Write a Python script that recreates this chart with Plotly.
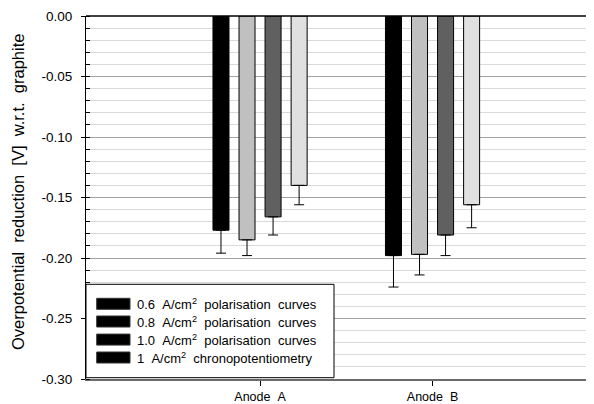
import plotly.graph_objects as go

NB = "\u00a0"
categories = ["Anode" + NB + NB + "A", "Anode" + NB + NB + "B"]
series_names = [
    "0.6 A/cm<sup>2</sup> polarisation curves",
    "0.8 A/cm<sup>2</sup> polarisation curves",
    "1.0 A/cm<sup>2</sup> polarisation curves",
    "1 A/cm<sup>2</sup> chronopotentiometry",
]
s1_values = [-0.177, -0.198]
s2_values = [-0.185, -0.197]
s3_values = [-0.166, -0.181]
s4_values = [-0.140, -0.156]
s1_err = [0.019, 0.026]
s2_err = [0.013, 0.017]
s3_err = [0.015, 0.017]
s4_err = [0.016, 0.019]
y_tick_vals = [0.0, -0.05, -0.10, -0.15, -0.20, -0.25, -0.30]
y_tick_text = ["0.00", "-0.05", "-0.10", "-0.15", "-0.20", "-0.25", "-0.30"]
y_title = "Overpotential reduction [V] w.r.t. graphite"

colors = ["#000000", "#c0c0c0", "#606060", "#e0e0e0"]
values = [s1_values, s2_values, s3_values, s4_values]
errs = [s1_err, s2_err, s3_err, s4_err]

def widen(s):
    return s.replace(" ", NB + NB)

OFF = 8  # page body margin
W, H = 594 - OFF, 404 - OFF
PL, PT, PR, PB = 86, 16, 594, 379  # plot area in page pixels
ml, mt = PL - OFF, PT - OFF
mr = (OFF + W) - PR
mb = (OFF + H) - PB
pw, ph = PR - PL, PB - PT

fig = go.Figure()
for name, vals, err, col in zip(series_names, values, errs, colors):
    fig.add_trace(go.Bar(
        x=categories, y=vals, name=name, showlegend=False,
        marker=dict(color=col, line=dict(color="black", width=1)),
        error_y=dict(type="data", symmetric=False, array=[0] * len(vals),
                     arrayminus=err, color="black", thickness=1, width=5),
    ))

def px_x(p):
    return (p - PL) / pw

def px_y(p):
    return (PB - p) / ph

shapes = []
shapes.append(dict(type="line", xref="paper", yref="paper", x0=0, x1=1, y0=1, y1=1,
                   line=dict(color="black", width=1.5), layer="above"))
shapes.append(dict(type="rect", xref="paper", yref="paper",
                   x0=px_x(86), x1=px_x(334), y0=px_y(377.7), y1=px_y(284.3),
                   fillcolor="white", line=dict(color="black", width=1), layer="above"))
annotations = []
row_centers = [303.8, 321.5, 339.6, 357.5]
for name, yc in zip(series_names, row_centers):
    shapes.append(dict(type="rect", xref="paper", yref="paper",
                       x0=px_x(96.7), x1=px_x(130), y0=px_y(yc + 5.5), y1=px_y(yc - 5.5),
                       fillcolor="black", line=dict(color="#333333", width=1), layer="above"))
    annotations.append(dict(xref="paper", yref="paper", x=px_x(135), y=px_y(yc),
                            xanchor="left", yanchor="middle", text=widen(name), showarrow=False,
                            font=dict(size=13, color="black")))
annotations.append(dict(xref="paper", yref="paper", x=px_x(18), y=px_y(192), text=widen(y_title),
                        textangle=-90, showarrow=False, xanchor="center", yanchor="middle",
                        font=dict(size=16.5, color="black")))

fig.update_layout(
    width=W, height=H, autosize=False,
    margin=dict(l=ml, r=mr, t=mt, b=mb, pad=0),
    paper_bgcolor="white", plot_bgcolor="white",
    font=dict(family="Liberation Sans, Arial, sans-serif", color="black"),
    barmode="group", bargap=0.396, bargroupgap=0.385,
    shapes=shapes, annotations=annotations,
    xaxis=dict(type="category", range=[-1.009, 1.936], showline=True, linecolor="#6a6a6a",
               linewidth=2, ticks="outside", ticklen=5, tickcolor="black", showgrid=False,
               tickfont=dict(size=12.5), zeroline=False),
    yaxis=dict(range=[-0.30, 0.0], tickvals=y_tick_vals, ticktext=y_tick_text,
               showline=True, linecolor="black", linewidth=1, ticks="outside", ticklen=4,
               ticklabelstandoff=6,
               tickcolor="black", showgrid=True, gridcolor="#a3a3a3", gridwidth=1,
               zeroline=False, tickfont=dict(size=13.5),
               minor=dict(dtick=0.01, tick0=0, ticks="inside", ticklen=4, tickcolor="black",
                          showgrid=True, gridcolor="#d9d9d9", gridwidth=1)),
)

fig.write_html("out.html")
